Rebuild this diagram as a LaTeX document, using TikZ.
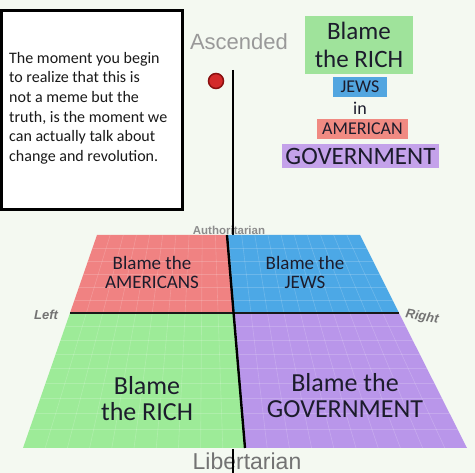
\documentclass[tikz,border=0pt]{standalone}
\usepackage{fontspec}
\setmainfont{Carlito}
\newfontfamily\arialf{Liberation Sans}
\definecolor{bgc}{HTML}{F4F9F1}
\definecolor{qred}{HTML}{F08282}
\definecolor{qblue}{HTML}{4CA8E6}
\definecolor{qgreen}{HTML}{9DEB98}
\definecolor{qpurple}{HTML}{B996EA}
\definecolor{bgreen}{HTML}{9FE39B}
\definecolor{bblue}{HTML}{52A6E0}
\definecolor{bred}{HTML}{F08A82}
\definecolor{bpurple}{HTML}{C4A2EA}
\definecolor{txt}{HTML}{1C1C2C}
\definecolor{dotred}{HTML}{D42A2A}
\definecolor{dotdark}{HTML}{8A1010}
\tikzset{
  fs/.style 2 args={font=\fontsize{#1}{#2}\selectfont},
  qlabel/.style={inner sep=0pt, align=center, text=txt},
  tagbox/.style={inner sep=0pt, align=center, text=txt},
  axislabel/.style={inner sep=0pt, text=black!55, font=\arialf\bfseries\itshape\fontsize{13}{13}\selectfont},
}
\begin{document}
\begin{tikzpicture}[x=1pt,y=-1pt]
\useasboundingbox (0,0) rectangle (475,473);
\fill[bgc] (0,0) rectangle (475,473);

% chart coordinates
\coordinate (TL) at (97,235);
\coordinate (TM) at (227,235);
\coordinate (TR) at (360,235);
\coordinate (ML) at (70,313);
\coordinate (MM) at (234,313);
\coordinate (MR) at (399,313);
\coordinate (BL) at (23,448);
\coordinate (BM) at (245,448);
\coordinate (BR) at (467,448);

% overlay line (behind chart)
\coordinate (lt) at (233,70);
\coordinate (lb) at (233,240);
\draw[line width=2.6] (lt) -- (lb);

% axis labels
\node[inner sep=0pt, text=black!45, font=\arialf\bfseries\fontsize{11.5}{11.5}\selectfont] (auth) at (229,230) {Authoritarian};
\draw[line width=2.6] (233,222) -- (233,236);

% quadrants
\fill[qred] (TL) -- (TM) -- (MM) -- (ML) -- cycle;
\fill[qblue] (TM) -- (TR) -- (MR) -- (MM) -- cycle;
\fill[qgreen] (ML) -- (MM) -- (BM) -- (BL) -- cycle;
\fill[qpurple] (MM) -- (MR) -- (BR) -- (BM) -- cycle;

% faint grid
\begin{scope}
\clip (TL) -- (TR) -- (BR) -- (BL) -- cycle;
\foreach \i in {1,...,19}{
  \draw[white, opacity=0.18, line width=0.6] ({97+\i*13.15},235) -- ({23+\i*22.2},448);
}
\foreach \yy in {248,261,274,287,300,326,340,354,368,383,398,413,429}{
  \draw[white, opacity=0.18, line width=0.6] (0,\yy) -- (475,\yy);
}
\end{scope}

% chart axes
\draw[line width=2.4, draw=black!90] (ML) -- (MR);
\draw[line width=2.4] (TM) -- (BM);

\node[axislabel] (left) at (46,315) {Left};
\node[axislabel, rotate=-10] (right) at (422,317) {Right};

% quadrant texts
\node[qlabel, fs={19}{19}] (q1) at (152,272) {Blame the\\AMERICANS};
\node[qlabel, fs={19}{19}] (q2) at (305,272) {Blame the\\JEWS};
\node[qlabel, fs={26}{26}] (q3) at (147,399) {Blame\\the RICH};
\node[qlabel, fs={26}{26}] (q4) at (345,396) {Blame the\\GOVERNMENT};

% Libertarian + bottom line
\node[inner sep=0pt, text=black!55, font=\arialf\fontsize{23}{23}\selectfont, anchor=base] (lib) at (247,469.5) {Libertarian};
\coordinate (bt) at (233,449);
\coordinate (bb) at (233,473);
\draw[line width=2.6] (bt) -- (bb);

% text box
\node[draw=black, line width=3, fill=white, minimum width=181, minimum height=199, inner sep=0pt] (box) at (92,110.5) {};
\node[inner sep=0pt, anchor=north west, align=left, fs={16}{19.6}, text=black!90] (msg) at (9,52) {The moment you begin\\to realize that this is\\not a meme but the\\truth, is the moment we\\can actually talk about\\change and revolution.};

% Ascended + dot
\node[inner sep=0pt, text=black!40, font=\arialf\fontsize{22}{22}\selectfont] (asc) at (239,42) {Ascended};
\node[circle, fill=dotred, draw=dotdark, line width=1.5, minimum size=15, inner sep=0pt] (dot) at (216,81) {};

% top right tags
\node[tagbox, fill=bgreen, minimum width=108, minimum height=58, fs={25}{28}] (t1) at (359,45) {Blame\\the RICH};
\node[tagbox, fill=bblue, minimum width=54, minimum height=20, fs={18}{18}] (t2) at (360,87) {JEWS};
\node[tagbox, fs={18}{18}] (t3) at (360,108) {in};
\node[tagbox, fill=bred, minimum width=91, minimum height=20, fs={18}{18}] (t4) at (362.5,129) {AMERICAN};
\node[tagbox, fill=bpurple, minimum width=157, minimum height=24, fs={25}{25}] (t5) at (360.5,156) {GOVERNMENT};
\end{tikzpicture}
\end{document}
